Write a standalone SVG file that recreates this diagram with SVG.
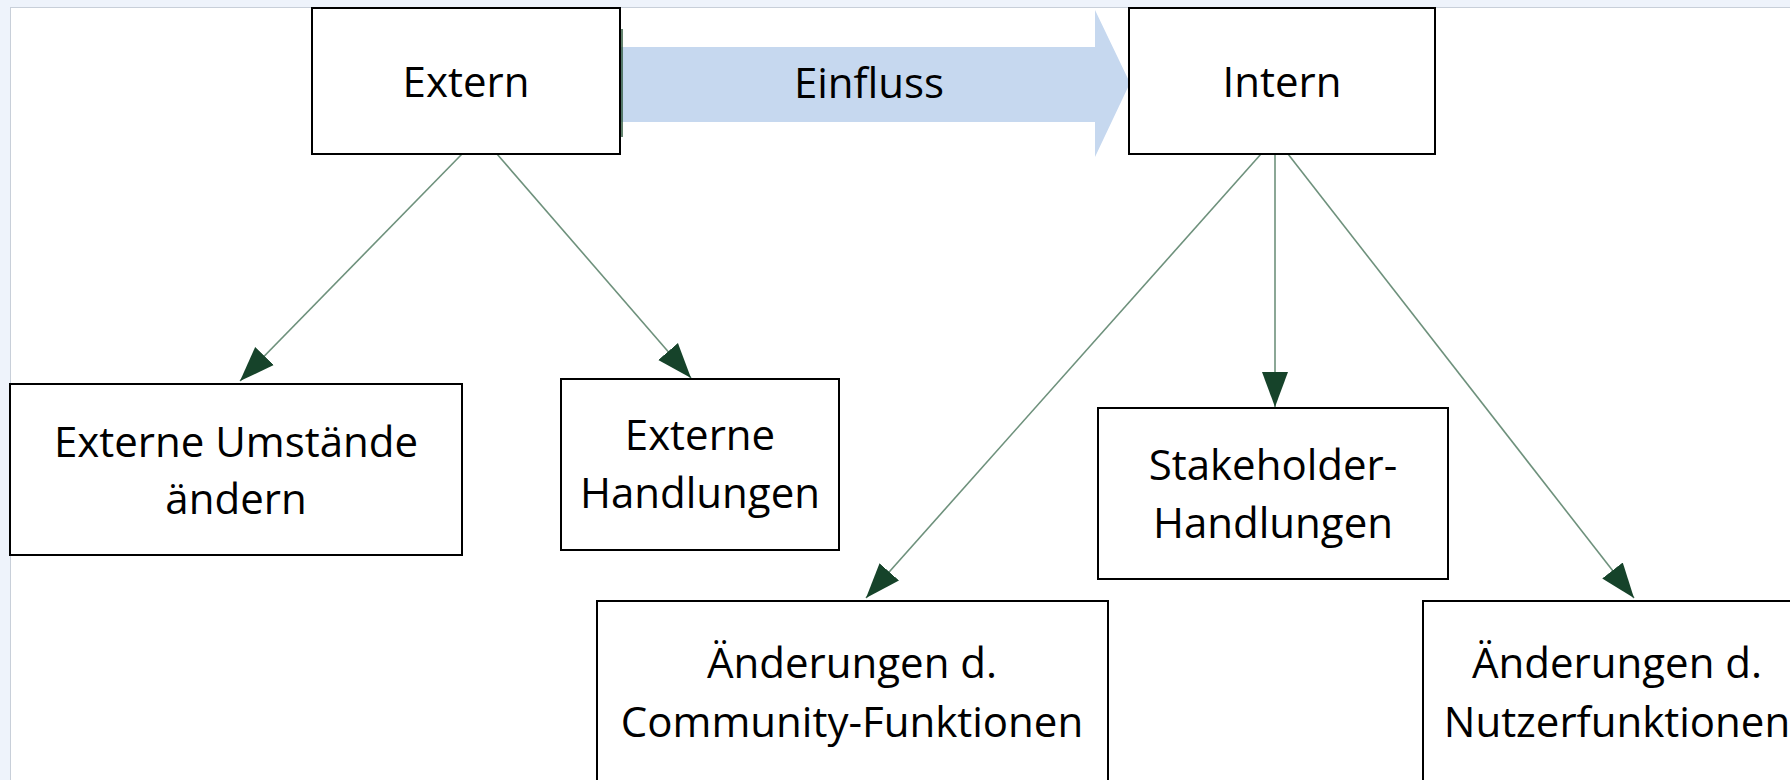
<svg xmlns="http://www.w3.org/2000/svg" width="1790" height="780" viewBox="0 0 1790 780">
  <defs>
    <style>
      .box { fill: #ffffff; stroke: #000000; stroke-width: 2; }
      .lbl { font-family: "Open Sans", "Noto Sans", "Liberation Sans", sans-serif; font-size: 42px; fill: #000000; text-anchor: middle; }
      .edge { stroke: #6e917c; stroke-width: 1.6; fill: none; marker-end: url(#ah); }
    </style>
    <marker id="ah" markerUnits="userSpaceOnUse" markerWidth="36" markerHeight="28" viewBox="0 0 36 28" refX="35" refY="14" orient="auto">
      <path d="M0,1 L35,14 L0,27 Z" fill="#16432a"/>
    </marker>
  </defs>

  <rect x="0" y="0" width="1790" height="780" fill="#eef3fb"/>
  <rect x="10.5" y="7.5" width="1790" height="780" fill="#ffffff" stroke="#c8cfd9" stroke-width="1"/>

  <g id="einfluss">
    <polygon points="620,47 1095,47 1095,10 1130,83 1095,157 1095,122 620,122" fill="#c6d8ef"/>
    <line x1="622" y1="29" x2="622" y2="137" stroke="#2f5a3e" stroke-width="1.5"/>
    <text class="lbl" x="869" y="98">Einfluss</text>
  </g>

  <g id="connectors">
    <line class="edge" x1="462" y1="154" x2="240" y2="381"/>
    <line class="edge" x1="497" y1="154" x2="691" y2="378"/>
    <line class="edge" x1="1261" y1="154" x2="866" y2="598"/>
    <line class="edge" x1="1275" y1="154" x2="1275" y2="407"/>
    <line class="edge" x1="1288" y1="154" x2="1634" y2="598"/>
  </g>

  <g id="extern">
    <rect class="box" x="312" y="8" width="308" height="146"/>
    <text class="lbl" x="466" y="97">Extern</text>
  </g>

  <g id="intern">
    <rect class="box" x="1129" y="8" width="306" height="146"/>
    <text class="lbl" x="1282" y="97">Intern</text>
  </g>

  <g id="externe-umstaende">
    <rect class="box" x="10" y="384" width="452" height="171"/>
    <text class="lbl" x="236" y="457">Externe Umstände</text>
    <text class="lbl" x="236" y="514">ändern</text>
  </g>

  <g id="externe-handlungen">
    <rect class="box" x="561" y="379" width="278" height="171"/>
    <text class="lbl" x="700" y="450">Externe</text>
    <text class="lbl" x="700" y="508">Handlungen</text>
  </g>

  <g id="stakeholder-handlungen">
    <rect class="box" x="1098" y="408" width="350" height="171"/>
    <text class="lbl" x="1273" y="480">Stakeholder-</text>
    <text class="lbl" x="1273" y="538">Handlungen</text>
  </g>

  <g id="community-funktionen">
    <rect class="box" x="597" y="601" width="511" height="200"/>
    <text class="lbl" x="852" y="678">Änderungen d.</text>
    <text class="lbl" x="852" y="737">Community-Funktionen</text>
  </g>

  <g id="nutzerfunktionen">
    <rect class="box" x="1423" y="601" width="400" height="200"/>
    <text class="lbl" x="1617" y="678">Änderungen d.</text>
    <text class="lbl" x="1617" y="737">Nutzerfunktionen</text>
  </g>
</svg>
